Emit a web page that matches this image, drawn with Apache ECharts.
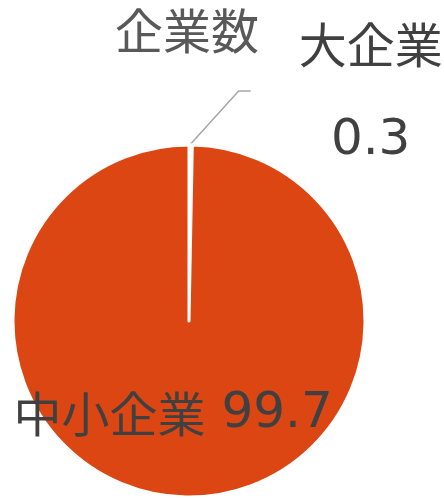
<!DOCTYPE html>
<html><head><meta charset="utf-8">
<script src="https://cdn.jsdelivr.net/npm/echarts@6/dist/echarts.min.js"></script>
<style>html,body{margin:0;padding:0;background:#fff}#c{width:444px;height:498px}</style>
</head><body><div id="c"></div>
<script>
const titleText = '企業数';
const categories = ['大企業', '中小企業'];
const values = [0.3, 99.7];
const colors = ['#ffffff', '#dc4613'];

const CJK = '"Noto Sans CJK JP","Noto Sans",sans-serif';
const NUM = '"DejaVu Sans",sans-serif';
const CX = 189, CY = 321, R = 176;
const total = values.reduce((a, b) => a + b, 0);
const midDeg = 90 - values[0] / total * 180;
const edge = [CX + R * Math.cos(midDeg * Math.PI / 180), CY - R * Math.sin(midDeg * Math.PI / 180)];

const chart = echarts.init(document.getElementById('c'), null, {renderer: 'canvas'});
chart.setOption({
  animation: false,
  title: {
    text: titleText, left: 110, top: 2,
    textStyle: {fontFamily: CJK, fontSize: 48, fontWeight: 'normal', color: '#595959'}
  },
  series: [{
    type: 'pie',
    center: [CX, CY],
    radius: [0, R],
    startAngle: 90,
    clockwise: true,
    avoidLabelOverlap: false,
    itemStyle: {borderColor: '#ffffff', borderWidth: 3},
    data: categories.map((c, i) => ({
      name: c, value: values[i],
      itemStyle: {color: colors[i]},
      label: i === 0 ? {
        show: true, position: 'outside',
        formatter: '{n|{b}}\n{v|{c}}', align: 'center',
        color: '#404040',
        rich: {
          n: {fontFamily: CJK, fontSize: 48, lineHeight: 97, color: '#404040', align: 'center'},
          v: {fontFamily: NUM, fontSize: 50, lineHeight: 97, color: '#404040', align: 'center'}
        }
      } : {
        show: true, position: 'inside',
        formatter: '{n|{b}}{v| {c}}',
        color: '#404040', offset: [-15, 2],
        rich: {
          n: {fontFamily: CJK, fontSize: 48, lineHeight: 56, color: '#404040'},
          v: {fontFamily: NUM, fontSize: 50, lineHeight: 56, color: '#404040'}
        }
      },
      labelLine: i === 0 ? {show: true, length: 20, length2: 12, lineStyle: {color: '#a6a6a6', width: 1.5}} : {show: false}
    })),
    labelLayout: function (p) {
      if (p.dataIndex !== 0) return {};
      const s = edge;
      return {
        x: s[0] + 180, y: s[1] - 52,
        align: 'center', verticalAlign: 'middle',
        labelLinePoints: [[s[0], s[1] - 1], [s[0] + 48, s[1] - 54], [s[0] + 60, s[1] - 54]]
      };
    }
  }]
});
</script></body></html>
